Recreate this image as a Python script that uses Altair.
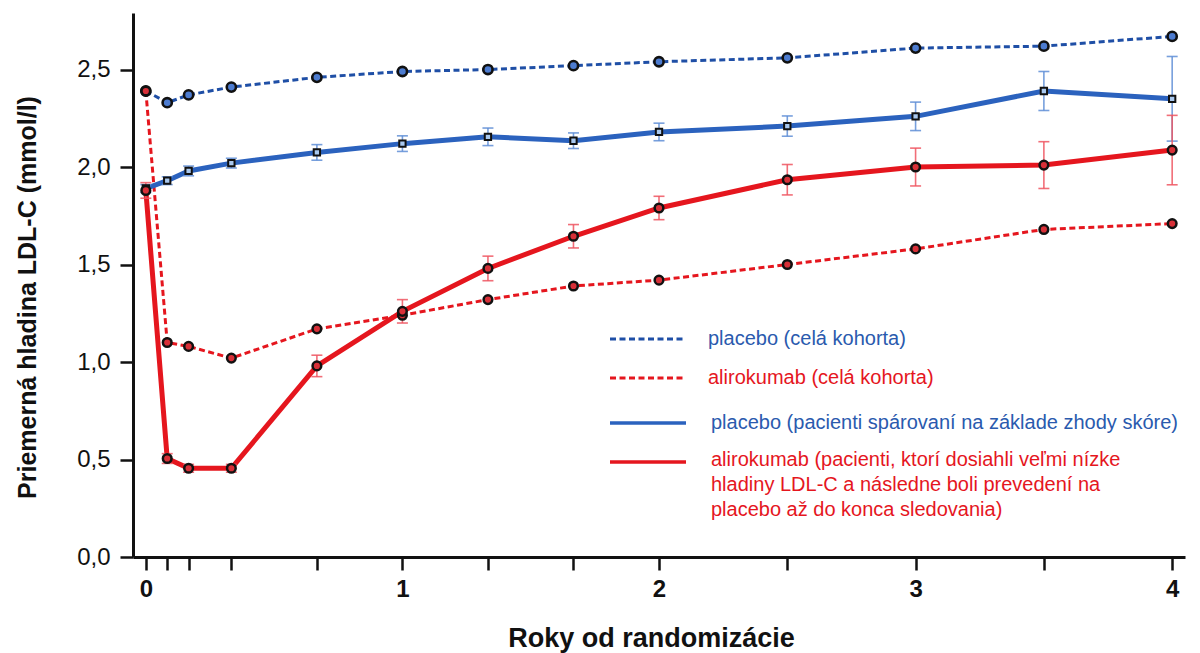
import altair as alt
import pandas as pd

# ---- data ----
years = [0, 1/12, 2/12, 4/12, 8/12, 1, 16/12, 20/12, 2, 2.5, 3, 3.5, 4]

placebo_all = [2.39, 2.33, 2.37, 2.41, 2.46, 2.49, 2.50, 2.52, 2.54, 2.56, 2.61, 2.62, 2.67]
aliro_all = [2.39, 1.10, 1.08, 1.02, 1.17, 1.24, 1.32, 1.39, 1.42, 1.50, 1.58, 1.68, 1.71]

placebo_matched = [1.89, 1.93, 1.98, 2.02, 2.075, 2.12, 2.155, 2.135, 2.18, 2.21, 2.26, 2.39, 2.35]
placebo_matched_err = [0.02, 0.02, 0.025, 0.025, 0.04, 0.04, 0.045, 0.04, 0.045, 0.052, 0.073, 0.10, 0.217]

aliro_matched = [1.88, 0.505, 0.455, 0.455, 0.98, 1.26, 1.48, 1.645, 1.79, 1.935, 2.00, 2.01, 2.087]
aliro_matched_err = [0.04, 0.025, 0.02, 0.02, 0.055, 0.06, 0.063, 0.06, 0.06, 0.078, 0.097, 0.12, 0.178]

series_names = ["placebo_all", "aliro_all", "placebo_matched", "aliro_matched"]
legend_labels = [
    "placebo (celá kohorta)",
    "alirokumab (celá kohorta)",
    "placebo (pacienti spárovaní na základe zhody skóre)",
    "alirokumab (pacienti, ktorí dosiahli veľmi nízke\nhladiny LDL-C a následne boli prevedení na\nplacebo až do konca sledovania)",
]

x_tick_values = [0, 1/12, 2/12, 4/12, 8/12, 1, 16/12, 20/12, 2, 2.5, 3, 3.5, 4]
y_tick_values = [0, 0.5, 1.0, 1.5, 2.0, 2.5]

x_title = "Roky od randomizácie"
y_title = "Priemerná hladina LDL-C (mmol/l)"

# ---- build table ----
rows = []
vals = [placebo_all, aliro_all, placebo_matched, aliro_matched]
errs = [[0] * len(years), [0] * len(years), placebo_matched_err, aliro_matched_err]
for name, v, e in zip(series_names, vals, errs):
    for x, y, er in zip(years, v, e):
        rows.append({"series": name, "x": x, "y": y, "lo": y - er, "hi": y + er})
df = pd.DataFrame(rows)

BLUE_D = "#1f4fa6"
BLUE_S = "#2b62be"
RED = "#e5161e"
BLUE_ERR = "#5f8ed6"
RED_ERR = "#ee5560"
FONT = "Liberation Sans"

xscale = alt.Scale(domain=[-0.05, 4.05], nice=False, zero=False)
yscale = alt.Scale(domain=[0, 2.79], nice=False, zero=False)

xaxis = alt.Axis(
    values=x_tick_values,
    labelExpr="abs(datum.value - round(datum.value)) < 0.001 ? format(datum.value, 'd') : ''",
    labelOverlap=False, labelFlush=False,
    title=x_title, titleX=518, titleY=81, titleBaseline="middle", titleAlign="center",
    titleFontSize=27, titleFontWeight="bold", titleFont=FONT, titleColor="#111",
    labelFontSize=24, labelFontWeight="bold", labelFont=FONT, labelColor="#111",
    labelPadding=7, tickSize=13, tickWidth=2.5, tickColor="#111",
    domainColor="#111", domainWidth=3, grid=False,
)
yaxis = alt.Axis(
    values=y_tick_values,
    labelExpr="replace(format(datum.value, '.1f'), '.', ',')",
    title=y_title, titleX=-106, titleY=284, titleBaseline="middle", titleAlign="center",
    titleAngle=-90, titleFontSize=25, titleFontWeight="bold", titleFont=FONT, titleColor="#111",
    labelFontSize=24, labelFont=FONT, labelColor="#111", labelPadding=10,
    tickSize=13, tickWidth=2.5, tickColor="#111",
    domainColor="#111", domainWidth=3, grid=False,
)

base = alt.Chart(df)


def sel(name):
    return base.transform_filter(alt.datum.series == name)


X = alt.X("x:Q", scale=xscale, axis=xaxis)
Y = alt.Y("y:Q", scale=yscale, axis=yaxis)

line_pa = sel("placebo_all").mark_line(color=BLUE_D, strokeWidth=3, strokeDash=[6, 3.5]).encode(x=X, y=Y)
line_aa = sel("aliro_all").mark_line(color=RED, strokeWidth=3, strokeDash=[6, 3.5]).encode(x="x:Q", y="y:Q")
line_pm = sel("placebo_matched").mark_line(color=BLUE_S, strokeWidth=5).encode(x="x:Q", y="y:Q")
line_am = sel("aliro_matched").mark_line(color=RED, strokeWidth=5).encode(x="x:Q", y="y:Q")


def errbars(name, color):
    s = sel(name)
    r = s.mark_rule(color=color, strokeWidth=1.6, opacity=0.85).encode(x="x:Q", y="lo:Q", y2="hi:Q")
    t1 = s.mark_tick(orient="horizontal", color=color, size=11, thickness=1.6, opacity=0.85).encode(x="x:Q", y="lo:Q")
    t2 = s.mark_tick(orient="horizontal", color=color, size=11, thickness=1.6, opacity=0.85).encode(x="x:Q", y="hi:Q")
    return r + t1 + t2


eb_pm = errbars("placebo_matched", BLUE_ERR)
eb_am = errbars("aliro_matched", RED_ERR)

pts_pa = sel("placebo_all").mark_point(shape="circle", filled=True, fill="#4d7cd0", stroke="#111",
                                        strokeWidth=2.6, size=85, opacity=1).encode(x="x:Q", y="y:Q")
pts_aa = sel("aliro_all").mark_point(shape="circle", filled=True, fill="#d83038", stroke="#111",
                                      strokeWidth=2.5, size=75, opacity=1).encode(x="x:Q", y="y:Q")
pts_pm = sel("placebo_matched").mark_point(shape="square", filled=True, fill="#a9c9f0", stroke="#111",
                                            strokeWidth=2, size=40, opacity=1).encode(x="x:Q", y="y:Q")
pts_am = sel("aliro_matched").mark_point(shape="circle", filled=True, fill="#d83038", stroke="#111",
                                          strokeWidth=2.5, size=75, opacity=1).encode(x="x:Q", y="y:Q")

# ---- manual legend ----
one = pd.DataFrame({"k": [0]})
legend_styles = [
    dict(color=BLUE_D, dash=[6, 3.5], width=3, y=326, tx=575, tcolor="#2a5aae"),
    dict(color=RED, dash=[6, 3.5], width=3, y=365, tx=575, tcolor=RED),
    dict(color=BLUE_S, dash=None, width=3.5, y=410, tx=578, tcolor="#2a5aae"),
    dict(color=RED, dash=None, width=3.5, y=449, tx=578, tcolor=RED),
]
legend_layers = []
for lab, st in zip(legend_labels, legend_styles):
    rule_kwargs = dict(color=st["color"], strokeWidth=st["width"])
    if st["dash"]:
        rule_kwargs["strokeDash"] = st["dash"]
    legend_layers.append(
        alt.Chart(one).mark_rule(**rule_kwargs).encode(
            x=alt.value(477), x2=alt.value(553), y=alt.value(st["y"])
        )
    )
    if "\n" in lab:
        txt = alt.Chart(one).mark_text(align="left", baseline="top", fontSize=20, font=FONT,
                                       color=st["tcolor"], lineBreak="\n", lineHeight=25).encode(
            x=alt.value(st["tx"]), y=alt.value(st["y"] - 12), text=alt.value(lab))
    else:
        txt = alt.Chart(one).mark_text(align="left", baseline="middle", fontSize=20, font=FONT,
                                       color=st["tcolor"]).encode(
            x=alt.value(st["tx"]), y=alt.value(st["y"]), text=alt.value(lab))
    legend_layers.append(txt)

chart = alt.layer(
    line_pa, line_aa, line_pm, line_am,
    eb_pm, eb_am,
    pts_pa, pts_aa, pts_pm, pts_am,
    *legend_layers,
).properties(
    width=1052, height=544,
    autosize=alt.AutoSizeParams(type="none"),
    padding={"left": 125, "top": 5, "right": 7, "bottom": 96},
    background="white",
).configure_view(stroke=None)

chart.save("out.html", embed_options={"renderer": "svg", "actions": False})
